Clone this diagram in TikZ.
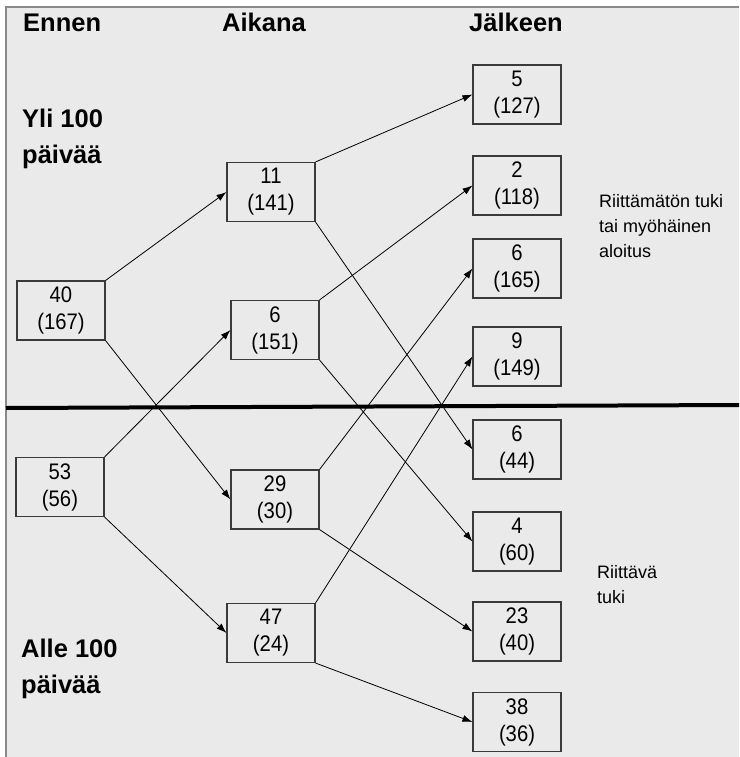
\documentclass[tikz,border=0pt]{standalone}
\usepackage{fontspec}
\setmainfont{Liberation Sans}
\newfontfamily\boxfont[FakeStretch=0.9]{Liberation Sans}
\usetikzlibrary{arrows.meta}
\definecolor{bgray}{HTML}{EAEAEA}
\definecolor{framegray}{HTML}{8A8A8A}
\definecolor{boxline}{HTML}{3A3A3A}
\tikzset{
  stat/.style={draw=boxline, line width=1.1pt, fill=bgray, minimum width=88pt, minimum height=59pt,
    inner sep=0pt, align=center, font=\boxfont\fontsize{22.5}{27}\selectfont},
  flow/.style={draw=black, line width=0.8pt, -{Latex[length=10pt,width=7pt]}},
  header/.style={anchor=base west, inner sep=0pt, font=\fontsize{25.5}{25.5}\selectfont\bfseries},
  group/.style={anchor=base west, inner sep=0pt, align=left, font=\fontsize{25.5}{35.5}\selectfont\bfseries},
  side/.style={anchor=base west, inner sep=0pt, align=left, font=\fontsize{18}{25}\selectfont}
}
\begin{document}
\begin{tikzpicture}[x=1pt,y=-1pt]
\useasboundingbox (0,0) rectangle (739,757);
\fill[white] (0,0) rectangle (739,757);
\fill[bgray] (6,7) rectangle (739,757);
\draw[framegray, line width=2pt] (6,757) -- (6,7) -- (739,7);
\draw[black, line width=4pt] (6,408) -- (739,405);

\node[header] (hEnnen) at (23,32) {Ennen};
\node[header] (hAikana) at (222,32) {Aikana};
\node[header] (hJalkeen) at (469,32) {Jälkeen};

\node[group] (gYli) at (22,163) {Yli 100\\päivää};
\node[group] (gAlle) at (21,693) {Alle 100\\päivää};

\node[side] (sRiit) at (599,257.5) {Riittämätön tuki\\tai myöhäinen\\aloitus};
\node[side] (sRiitt) at (597,603) {Riittävä\\tuki};

\node[stat] (e1) at (61,310.5) {40\\(167)};
\node[stat] (e2) at (60,487) {53\\(56)};
\node[stat] (a1) at (271,192) {11\\(141)};
\node[stat] (a2) at (275,330) {6\\(151)};
\node[stat] (a3) at (275,499.5) {29\\(30)};
\node[stat] (a4) at (271,633) {47\\(24)};
\node[stat] (j1) at (517,94.5) {5\\(127)};
\node[stat] (j2) at (517,185.5) {2\\(118)};
\node[stat] (j3) at (517,268.5) {6\\(165)};
\node[stat] (j4) at (517,356.5) {9\\(149)};
\node[stat] (j5) at (517,449.5) {6\\(44)};
\node[stat] (j6) at (517,541.5) {4\\(60)};
\node[stat] (j7) at (517,631.5) {23\\(40)};
\node[stat] (j8) at (517,722) {38\\(36)};

\draw[flow] (e1.north east) -- (a1.west);
\draw[flow] (e1.south east) -- (a3.west);
\draw[flow] (e2.north east) -- (a2.west);
\draw[flow] (e2.south east) -- (a4.west);
\draw[flow] (a1.north east) -- (j1.west);
\draw[flow] (a1.south east) -- (j5.west);
\draw[flow] (a2.north east) -- (j2.west);
\draw[flow] (a2.south east) -- (j6.west);
\draw[flow] (a3.north east) -- (j3.west);
\draw[flow] (a3.south east) -- (j7.west);
\draw[flow] (a4.north east) -- (j4.west);
\draw[flow] (a4.south east) -- (j8.west);
\end{tikzpicture}
\end{document}
